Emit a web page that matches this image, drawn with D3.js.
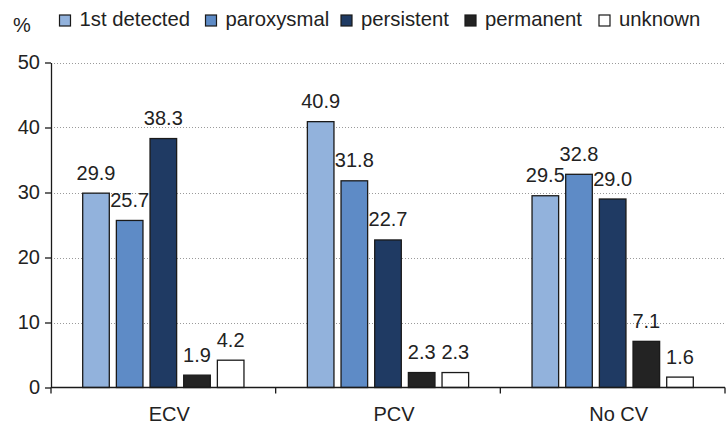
<!DOCTYPE html>
<html>
<head>
<meta charset="utf-8">
<script src="https://cdn.jsdelivr.net/npm/d3@7"></script>
<style>
  html, body { margin: 0; padding: 0; background: #fff; }
  svg { display: block; font-family: "Liberation Sans", Arial, Helvetica, sans-serif; }
</style>
</head>
<body>
<svg id="chart" width="728" height="425"></svg>
<script>
// Cardioversion groups and AF type shares (%)
const categories = ["ECV", "PCV", "No CV"];
const seriesNames = ["1st detected", "paroxysmal", "persistent", "permanent", "unknown"];
const firstDetected = [29.9, 40.9, 29.5];
const paroxysmal   = [25.7, 31.8, 32.8];
const persistent   = [38.3, 22.7, 29.0];
const permanent    = [1.9, 2.3, 7.1];
const unknown      = [4.2, 2.3, 1.6];
const yTicks = [0, 10, 20, 30, 40, 50];
const seriesColors = ["#92b2dc", "#5e8bc6", "#1f3a63", "#232323", "#ffffff"];

const seriesValues = [firstDetected, paroxysmal, persistent, permanent, unknown];
const rows = categories.map((c, i) => ({
  category: c,
  values: seriesNames.map((s, j) => ({ series: s, value: seriesValues[j][i] }))
}));

const svg = d3.select("#chart");
const plotLeft = 51, plotRight = 725, plotTop = 62.5, plotBottom = 387.5;

const x0 = d3.scaleBand().domain(categories).range([plotLeft, plotRight]).padding(0);
const groupInset = 31.7;
const x1 = d3.scaleBand().domain(seriesNames)
  .range([groupInset, x0.bandwidth() - groupInset])
  .paddingInner(0.21).paddingOuter(0);
const y = d3.scaleLinear().domain([0, 50]).range([plotBottom, plotTop]);
const color = d3.scaleOrdinal().domain(seriesNames).range(seriesColors);

// dotted horizontal gridlines
svg.append("g")
  .selectAll("line")
  .data(yTicks.filter(t => t > 0))
  .join("line")
  .attr("x1", plotLeft).attr("x2", plotRight)
  .attr("y1", d => Math.round(y(d)) + 0.5).attr("y2", d => Math.round(y(d)) + 0.5)
  .attr("stroke", "#9a9a9a")
  .attr("stroke-width", 1)
  .attr("stroke-dasharray", "1,2");

// bars
const groups = svg.append("g")
  .selectAll("g")
  .data(rows)
  .join("g")
  .attr("transform", d => `translate(${x0(d.category)},0)`);

groups.selectAll("rect")
  .data(d => d.values)
  .join("rect")
  .attr("x", d => x1(d.series))
  .attr("y", d => y(d.value))
  .attr("width", x1.bandwidth())
  .attr("height", d => y(0) - y(d.value))
  .attr("fill", d => color(d.series))
  .attr("stroke", "#1a1a1a")
  .attr("stroke-width", 1.3);

// value labels above each bar
groups.selectAll("text")
  .data(d => d.values)
  .join("text")
  .attr("x", d => x1(d.series) + x1.bandwidth() / 2)
  .attr("y", d => y(d.value) - 13.5)
  .attr("text-anchor", "middle")
  .attr("font-size", 20)
  .attr("fill", "#222")
  .text(d => d3.format(".1f")(d.value));

// y axis
const yAxis = svg.append("g")
  .attr("transform", `translate(${plotLeft},0)`)
  .call(d3.axisLeft(y).tickValues(yTicks).tickSize(6).tickPadding(5).tickSizeOuter(0));
yAxis.select(".domain").attr("stroke", "#1a1a1a").attr("stroke-width", 1.3);
yAxis.selectAll(".tick line").attr("stroke", "#1a1a1a").attr("stroke-width", 1.3);
yAxis.selectAll(".tick text")
  .attr("font-size", 20)
  .attr("font-family", "Liberation Sans, Arial, sans-serif")
  .attr("fill", "#222");

// x axis: baseline with ticks at group boundaries
const boundaries = [plotLeft, ...categories.map(c => x0(c) + x0.bandwidth())];
const xAxis = svg.append("g");
xAxis.append("line")
  .attr("x1", plotLeft).attr("x2", plotRight)
  .attr("y1", y(0)).attr("y2", y(0))
  .attr("stroke", "#1a1a1a").attr("stroke-width", 1.3);
xAxis.selectAll("line.tk")
  .data(boundaries)
  .join("line")
  .attr("class", "tk")
  .attr("x1", d => d).attr("x2", d => d)
  .attr("y1", y(0)).attr("y2", y(0) + 6)
  .attr("stroke", "#1a1a1a").attr("stroke-width", 1.3);
xAxis.selectAll("text")
  .data(categories)
  .join("text")
  .attr("x", d => x0(d) + x0.bandwidth() / 2 + 6)
  .attr("y", 421)
  .attr("text-anchor", "middle")
  .attr("font-size", 20)
  .attr("fill", "#222")
  .text(d => d);

// unit label
svg.append("text")
  .attr("x", 13).attr("y", 31.5)
  .attr("font-size", 20)
  .attr("fill", "#222")
  .text("%");

// legend: swatch + name, laid out left to right
const legendX = [59.5, 205.5, 341, 465, 599];
const legend = svg.append("g");
seriesNames.forEach((name, i) => {
  legend.append("rect")
    .attr("x", legendX[i]).attr("y", 15)
    .attr("width", 11).attr("height", 11)
    .attr("fill", color(name))
    .attr("stroke", "#1a1a1a")
    .attr("stroke-width", 1.2);
  legend.append("text")
    .attr("x", legendX[i] + 20).attr("y", 25.7)
    .attr("font-size", 20.3)
    .attr("fill", "#222")
    .text(name);
});
</script>
</body>
</html>
